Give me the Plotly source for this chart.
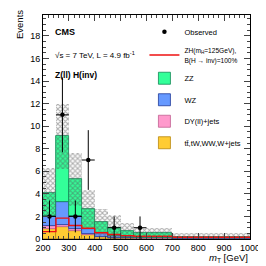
import plotly.graph_objects as go

# ---- data ----
edges = [200, 250, 300, 350, 400, 450, 500, 550, 700, 1000]
bkg_top = [0.85, 1.10, 0.70, 0.35, 0.15, 0.10, 0.05, 0.03, 0.01]   # tt,tW,WW,W+jets
dy = [0.30, 0.15, 0.15, 0.10, 0.05, 0.03, 0.02, 0.02, 0.01]
wz = [0.85, 2.05, 1.15, 0.45, 0.30, 0.15, 0.10, 0.06, 0.03]
zz = [2.10, 5.80, 3.30, 1.75, 1.00, 0.72, 0.53, 0.44, 0.17]
syst = [2.15, 2.90, 2.35, 1.65, 1.20, 1.10, 0.70, 0.45, 0.33]
signal = [0.65, 1.85, 1.20, 0.95, 0.55, 0.40, 0.30, 0.25, 0.15]
obs_x = [225, 275, 325, 375, 475, 575]
obs_y = [2, 11, 2, 7, 1, 1]
obs_xerr = [25, 25, 25, 25, 25, 25]

centers = [(a + b) / 2 for a, b in zip(edges[:-1], edges[1:])]
widths = [b - a for a, b in zip(edges[:-1], edges[1:])]

FONT = "Liberation Sans, Arial, sans-serif"
fig = go.Figure()

components = [
    ("tt̄,tW,WW,W+jets", bkg_top, "#FFCC33", "#B8860B"),
    ("DY(ll)+jets", dy, "#FF99CC", "#C06090"),
    ("WZ", wz, "#6699FF", "#1F3A99"),
    ("ZZ", zz, "#33FF99", "#118855"),
]
base = [0.0] * len(centers)
traces = []
for name, vals, col, lcol in components:
    traces.append(go.Bar(x=centers, y=vals, base=list(base), width=widths,
                         marker=dict(color=col, line=dict(color=lcol, width=0.8)),
                         name=name))
    base = [b + v for b, v in zip(base, vals)]
total = base

# uncertainty band
lo = [max(0.0, t - e) for t, e in zip(total, syst)]
hi = [t + e for t, e in zip(total, syst)]
band = go.Bar(x=centers, y=[h - l for h, l in zip(hi, lo)], base=lo, width=widths,
              marker=dict(color="rgba(0,0,0,0)", line=dict(width=0),
                          pattern=dict(shape="x", fgcolor="#555555", size=3.5,
                                       solidity=0.5, bgcolor="rgba(0,0,0,0)")),
              showlegend=False, hoverinfo="skip")

sig = go.Scatter(x=edges, y=signal + [signal[-1]], mode="lines", line_shape="hv",
                 line=dict(color="#EE1111", width=1.4),
                 name='<span style="font-size:6.6px">ZH(m<sub>H</sub>=125GeV),<br>B(H → inv)=100%</span>')

obs = go.Scatter(x=obs_x, y=obs_y, mode="markers", name="Observed",
                 marker=dict(color="black", size=4.5),
                 error_y=dict(type="data", array=[v ** 0.5 for v in obs_y],
                              color="black", thickness=1, width=0),
                 error_x=dict(type="data", array=obs_xerr, color="black",
                              thickness=1, width=0))

for t in traces:
    fig.add_trace(t)
fig.add_trace(band)
fig.add_trace(sig)
fig.add_trace(obs)

rank = {"Observed": 1, sig.name: 2, "ZZ": 3, "WZ": 4, "DY(ll)+jets": 5, "tt̄,tW,WW,W+jets": 6}
for tr in fig.data:
    if tr.name in rank:
        tr.legendrank = rank[tr.name]
        tr.legendgroup = "g%d" % rank[tr.name]

# page body has an 8px margin: size figure to 258 so it fills the 266 window
fig.update_layout(
    width=258, height=258,
    margin=dict(l=35, r=13, t=6, b=27),
    paper_bgcolor="white", plot_bgcolor="white",
    barmode="overlay", bargap=0,
    font=dict(family=FONT, size=9, color="black"),
    showlegend=True,
    legend=dict(x=0.49, y=0.99, xanchor="left", yanchor="top",
                font=dict(size=7.5, family=FONT), bgcolor="rgba(0,0,0,0)",
                tracegroupgap=2.5, itemwidth=30),
    xaxis=dict(range=[200, 1000], dtick=100, ticks="inside", ticklen=6,
               mirror="ticks", showline=True, linecolor="black", linewidth=1,
               showgrid=False, zeroline=False, tickfont=dict(size=9),
               minor=dict(dtick=20, ticks="inside", ticklen=3)),
    yaxis=dict(range=[0, 19.85], dtick=2, ticks="inside", ticklen=6,
               mirror="ticks", showline=True, linecolor="black", linewidth=1,
               showgrid=False, zeroline=False, tickfont=dict(size=9),
               minor=dict(dtick=0.5, ticks="inside", ticklen=3)),
    annotations=[
        dict(x=0.05, y=0.925, xref="paper", yref="paper", text="<b>CMS</b>",
             showarrow=False, xanchor="left", yanchor="middle", font=dict(size=9)),
        dict(x=0.05, y=0.822, xref="paper", yref="paper",
             text="√s = 7 TeV, L = 4.9 fb<sup>-1</sup>", showarrow=False,
             xanchor="left", yanchor="middle", font=dict(size=8)),
        dict(x=0.05, y=0.733, xref="paper", yref="paper", text="<b>Z(ll) H(inv)</b>",
             showarrow=False, xanchor="left", yanchor="middle", font=dict(size=8.5)),
        dict(x=1.0, y=-0.05, xref="paper", yref="paper",
             text="<i>m</i><sub>T</sub> [GeV]", showarrow=False,
             xanchor="right", yanchor="top", font=dict(size=9.5)),
        dict(x=-0.11, y=1.03, xref="paper", yref="paper", text="Events",
             textangle=-90, showarrow=False, xanchor="center", yanchor="top",
             font=dict(size=9.5)),
    ],
)

fig.write_html("out.html")
